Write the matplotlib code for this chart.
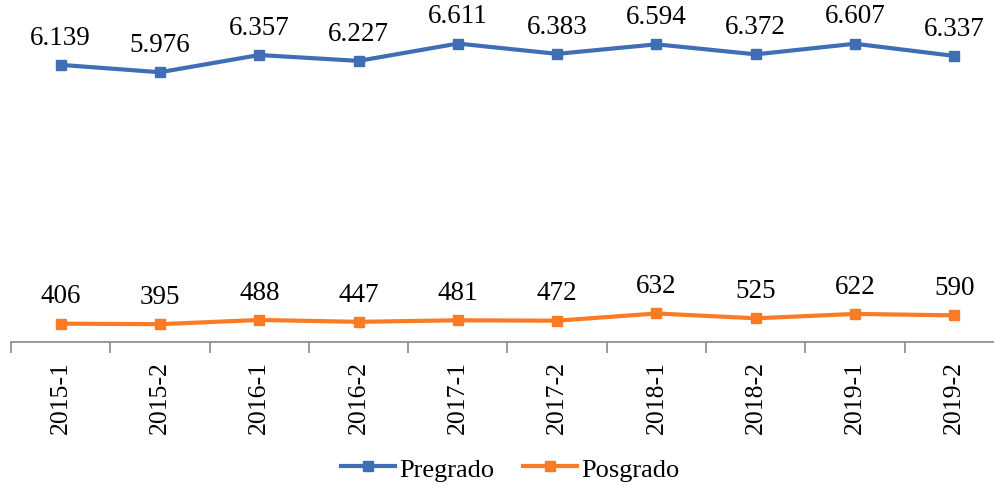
import numpy as np
import matplotlib
matplotlib.use('Agg')
from matplotlib import pyplot as plt

periods = ['2015-1', '2015-2', '2016-1', '2016-2', '2017-1',
           '2017-2', '2018-1', '2018-2', '2019-1', '2019-2']
pregrado = [6139, 5976, 6357, 6227, 6611, 6383, 6594, 6372, 6607, 6337]
posgrado = [406, 395, 488, 447, 481, 472, 632, 525, 622, 590]

plt.rcParams['font.family'] = ['Liberation Serif', 'DejaVu Serif']

blue = '#3F6EB5'
orange = '#FA7B23'


def fmt(v):
    # thousands separator as a dot
    return f'{v:,}'.replace(',', '.')


fig = plt.figure(figsize=(9.95, 4.89), dpi=100)
ax = fig.add_axes([11 / 995, (489 - 343) / 489, 993 / 995, 316 / 489])

x = np.arange(len(periods))
ax.plot(x, pregrado, color=blue, lw=3, marker='s', ms=7, label='Pregrado')
ax.plot(x, posgrado, color=orange, lw=3, marker='s', ms=7, label='Posgrado')

for xi, v in zip(x, pregrado):
    ax.annotate(fmt(v), (xi, v), xytext=(0, 11), textcoords='offset points',
                ha='center', va='bottom', fontsize=19.5)
for xi, v in zip(x, posgrado):
    ax.annotate(fmt(v), (xi, v), xytext=(0, 11), textcoords='offset points',
                ha='center', va='bottom', fontsize=19.5)

ax.set_xlim(-0.5, len(periods) - 0.5)
ax.set_ylim(0, 7000)

ax.set_xticks(x)
ax.set_xticklabels(periods, rotation=90, fontsize=18.5)
ax.set_xticks(np.arange(-0.5, len(periods)), minor=True)
ax.tick_params(axis='x', which='major', length=0, pad=13)
ax.tick_params(axis='x', which='minor', length=8, color='#888888', width=1.2)
ax.set_yticks([])

for s in ['top', 'right', 'left']:
    ax.spines[s].set_visible(False)
ax.spines['bottom'].set_color('#888888')
ax.spines['bottom'].set_linewidth(1.2)

fig.legend(loc='center', bbox_to_anchor=(0.5126, 0.039), ncol=2, frameon=False,
           fontsize=19, handlelength=2.05, columnspacing=1.1, handletextpad=0.15)

fig.savefig('out.png', dpi=100)
